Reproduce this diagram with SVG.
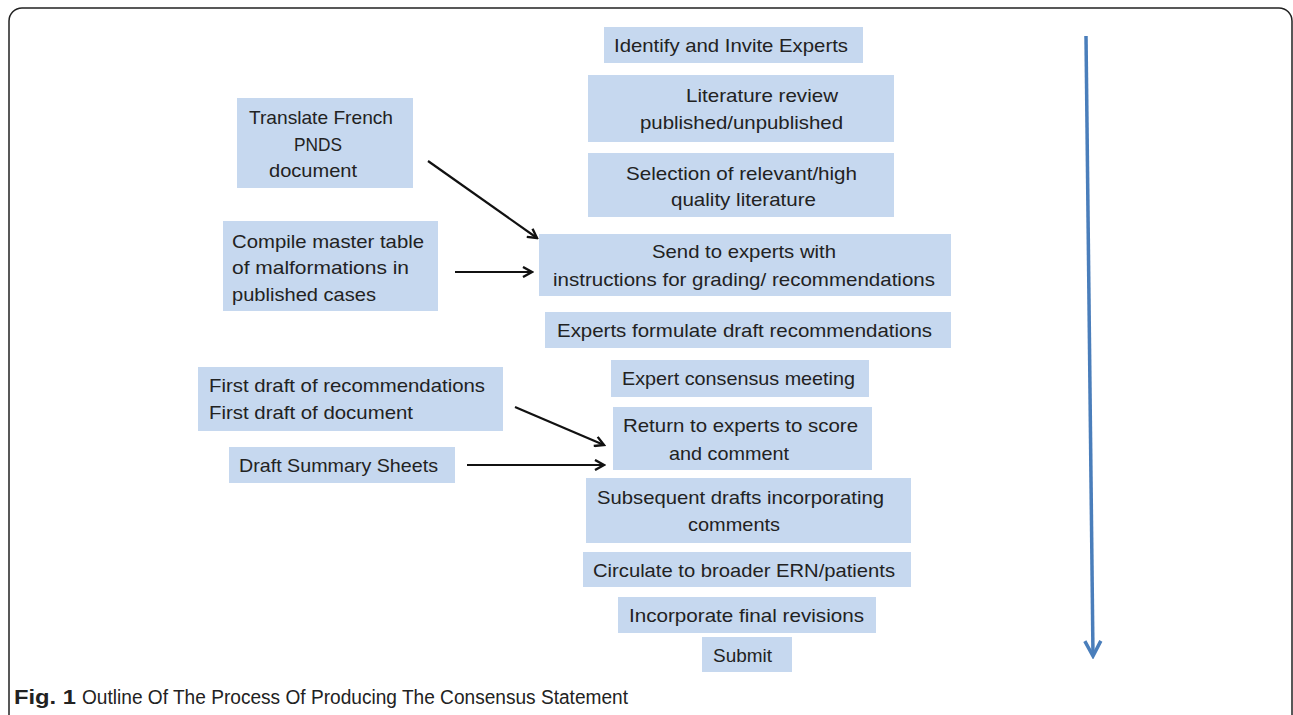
<svg xmlns="http://www.w3.org/2000/svg" width="1293" height="715" viewBox="0 0 1293 715">
<style>
.box{fill:#c6d8ef;}
.t{font-family:"Liberation Sans",Arial,sans-serif;font-size:18.5px;fill:#222;}
.cap{font-family:"Liberation Sans",Arial,sans-serif;font-size:20px;fill:#222;}
.conn{stroke:#111;stroke-width:2.2;fill:none;marker-end:url(#ah);}
</style>
<defs>
<marker id="ah" viewBox="0 0 12 12" refX="10" refY="6" markerWidth="12" markerHeight="12" markerUnits="userSpaceOnUse" orient="auto">
<path d="M1,1 L10,6 L1,11" fill="none" stroke="#111" stroke-width="2.4"/>
</marker>
<marker id="bh" viewBox="0 0 20 20" refX="17" refY="10" markerWidth="20" markerHeight="20" markerUnits="userSpaceOnUse" orient="auto">
<path d="M2,2 L17,10 L2,18" fill="none" stroke="#4a7ebb" stroke-width="3.5"/>
</marker>
</defs>
<rect x="0" y="0" width="1293" height="715" fill="#fff"/>
<rect x="9" y="8" width="1283" height="740" rx="13" ry="13" fill="none" stroke="#222" stroke-width="1.5"/>

<g id="n1"><rect class="box" x="604" y="27" width="259" height="36"/><text class="t" x="614" y="52" textLength="234" lengthAdjust="spacingAndGlyphs">Identify and Invite Experts</text></g>
<g id="n2"><rect class="box" x="588" y="75" width="306" height="67"/><text class="t" x="686" y="102" textLength="152" lengthAdjust="spacingAndGlyphs">Literature review</text><text class="t" x="640" y="129" textLength="203" lengthAdjust="spacingAndGlyphs">published/unpublished</text></g>
<g id="n3"><rect class="box" x="588" y="153" width="306" height="64"/><text class="t" x="626" y="180" textLength="231" lengthAdjust="spacingAndGlyphs">Selection of relevant/high</text><text class="t" x="671" y="206" textLength="145" lengthAdjust="spacingAndGlyphs">quality literature</text></g>
<g id="n4"><rect class="box" x="539" y="234" width="412" height="62"/><text class="t" x="652" y="258" textLength="184" lengthAdjust="spacingAndGlyphs">Send to experts with</text><text class="t" x="553" y="286" textLength="382" lengthAdjust="spacingAndGlyphs">instructions for grading/ recommendations</text></g>
<g id="n5"><rect class="box" x="545" y="312" width="406" height="36"/><text class="t" x="557" y="337" textLength="375" lengthAdjust="spacingAndGlyphs">Experts formulate draft recommendations</text></g>
<g id="n6"><rect class="box" x="611" y="360" width="258" height="37"/><text class="t" x="622" y="385" textLength="233" lengthAdjust="spacingAndGlyphs">Expert consensus meeting</text></g>
<g id="n7"><rect class="box" x="613" y="407" width="259" height="63"/><text class="t" x="623" y="432" textLength="235" lengthAdjust="spacingAndGlyphs">Return to experts to score</text><text class="t" x="669" y="460" textLength="120" lengthAdjust="spacingAndGlyphs">and comment</text></g>
<g id="n8"><rect class="box" x="586" y="478" width="325" height="65"/><text class="t" x="597" y="504" textLength="287" lengthAdjust="spacingAndGlyphs">Subsequent drafts incorporating</text><text class="t" x="688" y="531" textLength="92" lengthAdjust="spacingAndGlyphs">comments</text></g>
<g id="n9"><rect class="box" x="583" y="552" width="328" height="35"/><text class="t" x="593" y="577" textLength="302" lengthAdjust="spacingAndGlyphs">Circulate to broader  ERN/patients</text></g>
<g id="n10"><rect class="box" x="618" y="597" width="258" height="36"/><text class="t" x="629" y="622" textLength="235" lengthAdjust="spacingAndGlyphs">Incorporate  final revisions</text></g>
<g id="n11"><rect class="box" x="702" y="637" width="90" height="35"/><text class="t" x="713" y="662" textLength="59" lengthAdjust="spacingAndGlyphs">Submit</text></g>

<g id="s1"><rect class="box" x="237" y="98" width="176" height="90"/><text class="t" x="249" y="124" textLength="144" lengthAdjust="spacingAndGlyphs">Translate French</text><text class="t" x="294" y="151" textLength="48" lengthAdjust="spacingAndGlyphs">PNDS</text><text class="t" x="269" y="177" textLength="88" lengthAdjust="spacingAndGlyphs">document</text></g>
<g id="s2"><rect class="box" x="223" y="221" width="215" height="90"/><text class="t" x="232" y="248" textLength="192" lengthAdjust="spacingAndGlyphs">Compile master table</text><text class="t" x="232" y="274" textLength="177" lengthAdjust="spacingAndGlyphs">of malformations in</text><text class="t" x="232" y="301" textLength="144" lengthAdjust="spacingAndGlyphs">published cases</text></g>
<g id="s3"><rect class="box" x="198" y="367" width="305" height="64"/><text class="t" x="209" y="392" textLength="276" lengthAdjust="spacingAndGlyphs">First draft of recommendations</text><text class="t" x="209" y="419" textLength="204" lengthAdjust="spacingAndGlyphs">First draft of document</text></g>
<g id="s4"><rect class="box" x="229" y="447" width="226" height="36"/><text class="t" x="239" y="472" textLength="199" lengthAdjust="spacingAndGlyphs">Draft Summary  Sheets</text></g>

<g id="connectors">
<line class="conn" x1="428" y1="161" x2="537" y2="238"/>
<line class="conn" x1="455" y1="272" x2="532" y2="272"/>
<line class="conn" x1="515" y1="407" x2="604" y2="445"/>
<line class="conn" x1="467" y1="465" x2="604" y2="465"/>
<line x1="1086" y1="36" x2="1093" y2="656" stroke="#4a7ebb" stroke-width="3.5" marker-end="url(#bh)"/>
</g>

<text class="cap" x="14" y="704" font-weight="bold" textLength="62" lengthAdjust="spacingAndGlyphs">Fig. 1</text>
<text class="cap" x="82" y="704" textLength="546" lengthAdjust="spacingAndGlyphs">Outline Of The Process Of Producing The Consensus Statement</text>
</svg>
